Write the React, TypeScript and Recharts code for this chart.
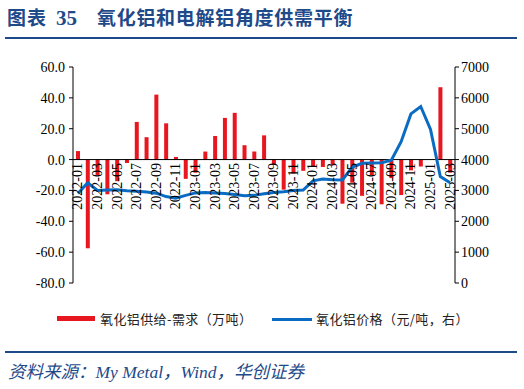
import React from "react";
import { ComposedChart, Bar, Line, XAxis, YAxis, ReferenceLine } from "recharts";

const months = [
  "2022-01","2022-02","2022-03","2022-04","2022-05","2022-06","2022-07","2022-08","2022-09","2022-10","2022-11","2022-12",
  "2023-01","2023-02","2023-03","2023-04","2023-05","2023-06","2023-07","2023-08","2023-09","2023-10","2023-11","2023-12",
  "2024-01","2024-02","2024-03","2024-04","2024-05","2024-06","2024-07","2024-08","2024-09","2024-10","2024-11","2024-12",
  "2025-01","2025-02","2025-03",
];

const balance = [
  5.5, -57.5, -10, -22.5, -14, -2.3, 24.4, 14.5, 42.1, 23.5, 1.7, -12.5,
  -8.5, 5.2, 15.3, 27, 30.3, 9.3, 5.2, 15.7, -3.2, -19.5, -9, -7.3,
  -4.8, -4.8, -3.8, -28.6, -15, -23.5, -10, -29, -12, -23, -7, -4.5,
  0, 46.9, -8.5,
];

const price = [
  2900, 3250, 3000, 3010, 3020, 2990, 2970, 2950, 2910, 2800, 2745, 2840,
  2920, 2930, 2920, 2900, 2870, 2830, 2840, 2890, 2930, 2960, 3000, 3010,
  3310, 3370, 3350, 3340, 3750, 3880, 3890, 3900, 3980, 4580, 5480, 5720,
  4980, 3450, 3250,
];

const leftTicks = [-80, -60, -40, -20, 0, 20, 40, 60];
const rightTicks = [0, 1000, 2000, 3000, 4000, 5000, 6000, 7000];

const L_MIN = -80;
const L_MAX = 60;
const PLOT_H = 216;

const data = months.map((m, i) => ({ month: m, balance: balance[i], price: price[i] }));

const BLUE_DARK = "#1F4A89";
const RED = "#E8161E";
const LINE_BLUE = "#0A6BC3";
const SERIF = "'Liberation Serif', 'Times New Roman', serif";
const CJK = "'Noto Sans CJK SC', sans-serif";

const XTick = (props: any) => {
  const { x, y, payload } = props;
  const zeroY = y - (PLOT_H * (0 - L_MIN)) / (L_MAX - L_MIN);
  return (
    <text
      x={0}
      y={0}
      transform={`translate(${x},${zeroY + 3.5}) rotate(-90)`}
      textAnchor="end"
      dominantBaseline="central"
      fontSize={14}
      fontFamily={SERIF}
      fill="#000"
    >
      {payload.value}
    </text>
  );
};

export default function App() {
  return (
    <div style={{ position: "absolute", left: 0, top: 0, width: 524, height: 389, background: "#fff" }}>
      <div
        style={{
          position: "absolute",
          left: 7,
          top: 4,
          fontFamily: CJK,
          fontWeight: 700,
          fontSize: 19,
          color: BLUE_DARK,
          whiteSpace: "pre",
          lineHeight: "26px",
        }}
      >
        <span style={{ letterSpacing: 1 }}>图表</span>
        <span style={{ fontFamily: SERIF, fontSize: 21, marginLeft: 9 }}>35</span>
        <span style={{ letterSpacing: 0.7, marginLeft: 20 }}>氧化铝和电解铝角度供需平衡</span>
      </div>
      <div style={{ position: "absolute", left: 5, top: 37, width: 512, height: 2, background: BLUE_DARK }} />

      <div style={{ position: "absolute", left: 0, top: 0 }}>
        <ComposedChart width={524} height={389} data={data} margin={{ top: 67, right: 0, bottom: 46, left: 0 }}>
          <XAxis
            dataKey="month"
            xAxisId="x"
            height={60}
            interval={1}
            tick={<XTick />}
            tickLine={false}
            axisLine={false}
            tickSize={0}
            tickMargin={0}
          />
          <YAxis
            yAxisId="left"
            orientation="left"
            width={73}
            domain={[L_MIN, L_MAX]}
            ticks={leftTicks}
            tickFormatter={(v: number) => v.toFixed(1)}
            tick={{ fontSize: 14, fontFamily: SERIF, fill: "#000" }}
            axisLine={{ stroke: "#000", strokeWidth: 1 }}
            tickLine={{ stroke: "#000" }}
            tickSize={4}
            tickMargin={4}
            allowDataOverflow
          />
          <YAxis
            yAxisId="right"
            orientation="right"
            width={69}
            domain={[0, 7000]}
            ticks={rightTicks}
            tick={{ fontSize: 14, fontFamily: SERIF, fill: "#000" }}
            axisLine={{ stroke: "#000", strokeWidth: 1 }}
            tickLine={{ stroke: "#000" }}
            tickSize={4}
            tickMargin={2}
          />
          <Bar xAxisId="x" yAxisId="left" dataKey="balance" fill={RED} barSize={4} isAnimationActive={false} />
          <ReferenceLine xAxisId="x" yAxisId="left" y={0} stroke="#000" strokeWidth={1} />
          <Line
            xAxisId="x"
            yAxisId="right"
            dataKey="price"
            type="linear"
            stroke={LINE_BLUE}
            strokeWidth={3}
            dot={false}
            activeDot={false}
            isAnimationActive={false}
          />
        </ComposedChart>
      </div>

      <div style={{ position: "absolute", left: 57, top: 316, width: 38, height: 5, background: RED }} />
      <div
        style={{
          position: "absolute",
          left: 100,
          top: 310,
          fontFamily: CJK,
          fontSize: 13,
          letterSpacing: 0.4,
          color: "#222",
          lineHeight: "18px",
          whiteSpace: "pre",
        }}
      >
        氧化铝供给-需求（万吨）
      </div>
      <div style={{ position: "absolute", left: 272, top: 317.5, width: 40, height: 3, background: LINE_BLUE }} />
      <div
        style={{
          position: "absolute",
          left: 316,
          top: 310,
          fontFamily: CJK,
          fontSize: 13,
          letterSpacing: 0.4,
          color: "#222",
          lineHeight: "18px",
          whiteSpace: "pre",
        }}
      >
        氧化铝价格（元/吨，右）
      </div>

      <div style={{ position: "absolute", left: 5, top: 351, width: 512, height: 2, background: BLUE_DARK }} />
      <div
        style={{
          position: "absolute",
          left: 8,
          top: 360,
          fontFamily: `'Liberation Serif', ${CJK}`,
          fontStyle: "italic",
          fontSize: 17.5,
          color: BLUE_DARK,
          lineHeight: "24px",
          whiteSpace: "pre",
        }}
      >
        资料来源：My Metal，Wind，华创证券
      </div>
    </div>
  );
}
